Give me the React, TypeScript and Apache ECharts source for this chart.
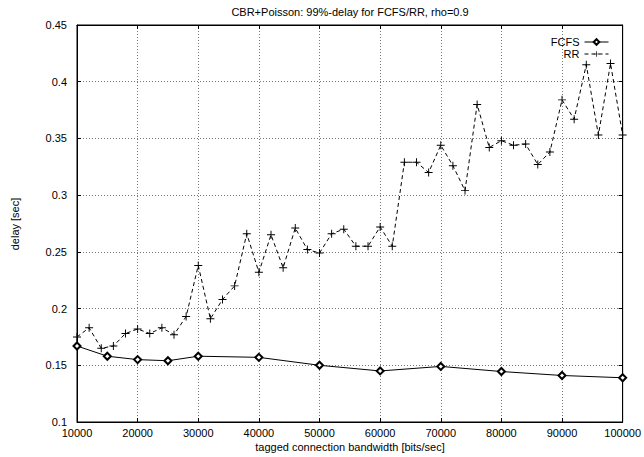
import React, { useEffect, useRef } from "react";
import * as echarts from "echarts";

// Tagged connection bandwidth [bits/sec] for each series
const fcfsBandwidth = [10000, 15000, 20000, 25000, 30000, 40000, 50000, 60000, 70000, 80000, 90000, 100000];
const fcfsDelay = [0.167, 0.158, 0.155, 0.154, 0.158, 0.157, 0.15, 0.145, 0.149, 0.1445, 0.141, 0.139];

const rrBandwidth = [
  10000, 12000, 14000, 16000, 18000, 20000, 22000, 24000, 26000, 28000,
  30000, 32000, 34000, 36000, 38000, 40000, 42000, 44000, 46000, 48000,
  50000, 52000, 54000, 56000, 58000, 60000, 62000, 64000, 66000, 68000,
  70000, 72000, 74000, 76000, 78000, 80000, 82000, 84000, 86000, 88000,
  90000, 92000, 94000, 96000, 98000, 100000,
];
const rrDelay = [
  0.175, 0.183, 0.165, 0.167, 0.178, 0.182, 0.178, 0.183, 0.177, 0.193,
  0.238, 0.191, 0.208, 0.22, 0.266, 0.232, 0.265, 0.236, 0.271, 0.252,
  0.249, 0.266, 0.27, 0.255, 0.255, 0.272, 0.255, 0.329, 0.329, 0.32,
  0.344, 0.326, 0.304, 0.38, 0.342, 0.348, 0.344, 0.345, 0.327, 0.338,
  0.384, 0.367, 0.415, 0.353, 0.416, 0.353,
];

const titleText = "CBR+Poisson: 99%-delay for FCFS/RR, rho=0.9";
const xLabel = "tagged connection bandwidth [bits/sec]";
const yLabel = "delay [sec]";

const FONT = "Liberation Sans, Arial, Helvetica, sans-serif";
const PLUS = "path://M4.4,0 H5.6 V4.4 H10 V5.6 H5.6 V10 H4.4 V5.6 H0 V4.4 H4.4 Z";

export default function App() {
  const ref = useRef<HTMLDivElement>(null);

  useEffect(() => {
    if (!ref.current) return;
    const chart = echarts.init(ref.current, undefined, { renderer: "svg" });

    const gridLine = { show: true, lineStyle: { color: "#777", type: [1, 2] as any, width: 1 } };
    const frameTick = { show: true, inside: true, length: 4, lineStyle: { color: "#000" } };
    const xCommon = { type: "value" as const, min: 10000, max: 100000, interval: 10000 };
    const yCommon = { type: "value" as const, min: 0.1, max: 0.45, interval: 0.05 };

    chart.setOption({
      animation: false,
      backgroundColor: "#fff",
      textStyle: { fontFamily: FONT },
      grid: {
        left: 77,
        right: 21,
        top: 25,
        bottom: 35,
        show: true,
        borderColor: "#000",
        borderWidth: 1,
        backgroundColor: "transparent",
      },
      legend: {
        orient: "vertical",
        right: 35,
        top: 36,
        padding: 0,
        align: "right",
        itemWidth: 24,
        itemHeight: 7,
        itemGap: 0,
        lineStyle: { width: 1 },
        textStyle: { fontFamily: FONT, fontSize: 11, color: "#000", lineHeight: 12 },
        data: ["FCFS", "RR"],
      },
      xAxis: [
        {
          ...xCommon,
          position: "bottom",
          axisLine: { show: true, lineStyle: { color: "#000" } },
          axisTick: frameTick,
          axisLabel: {
            color: "#000",
            fontSize: 11,
            fontFamily: FONT,
            margin: 5,
            formatter: (v: number) => String(v),
          },
          splitLine: gridLine,
        },
        {
          ...xCommon,
          position: "top",
          axisLine: { show: true, lineStyle: { color: "#000" } },
          axisTick: frameTick,
          axisLabel: { show: false },
          splitLine: { show: false },
        },
      ],
      yAxis: [
        {
          ...yCommon,
          position: "left",
          axisLine: { show: true, lineStyle: { color: "#000" } },
          axisTick: frameTick,
          axisLabel: { color: "#000", fontSize: 11, fontFamily: FONT, margin: 10 },
          splitLine: gridLine,
        },
        {
          ...yCommon,
          position: "right",
          axisLine: { show: true, lineStyle: { color: "#000" } },
          axisTick: frameTick,
          axisLabel: { show: false },
          splitLine: { show: false },
        },
      ],
      series: [
        {
          name: "FCFS",
          type: "line",
          xAxisIndex: 0,
          yAxisIndex: 0,
          data: fcfsBandwidth.map((b, i) => [b, fcfsDelay[i]]),
          symbol: "emptyDiamond",
          symbolSize: 7,
          showAllSymbol: true,
          lineStyle: { color: "#000", width: 1 },
          itemStyle: { color: "#000", borderColor: "#000", borderWidth: 1.2 },
          z: 3,
        },
        {
          name: "RR",
          type: "line",
          xAxisIndex: 0,
          yAxisIndex: 0,
          data: rrBandwidth.map((b, i) => [b, rrDelay[i]]),
          symbol: PLUS,
          symbolSize: 8,
          showAllSymbol: true,
          lineStyle: { color: "#000", width: 1, type: [4, 3] as any },
          itemStyle: { color: "#000" },
          z: 3,
        },
      ],
      graphic: [
        {
          type: "text",
          x: 350,
          y: 12,
          style: {
            text: titleText,
            fontFamily: FONT,
            fontSize: 11,
            fill: "#000",
            textAlign: "center",
            textVerticalAlign: "middle",
          },
        },
        {
          type: "text",
          x: 350,
          y: 447,
          style: {
            text: xLabel,
            fontFamily: FONT,
            fontSize: 11,
            fill: "#000",
            textAlign: "center",
            textVerticalAlign: "middle",
          },
        },
        {
          type: "text",
          x: 15,
          y: 224,
          rotation: Math.PI / 2,
          style: {
            text: yLabel,
            fontFamily: FONT,
            fontSize: 11,
            fill: "#000",
            textAlign: "center",
            textVerticalAlign: "middle",
          },
        },
      ],
    });

    return () => chart.dispose();
  }, []);

  return (
    <div
      ref={ref}
      style={{ position: "absolute", left: 0, top: 0, width: 644, height: 457 }}
    />
  );
}
